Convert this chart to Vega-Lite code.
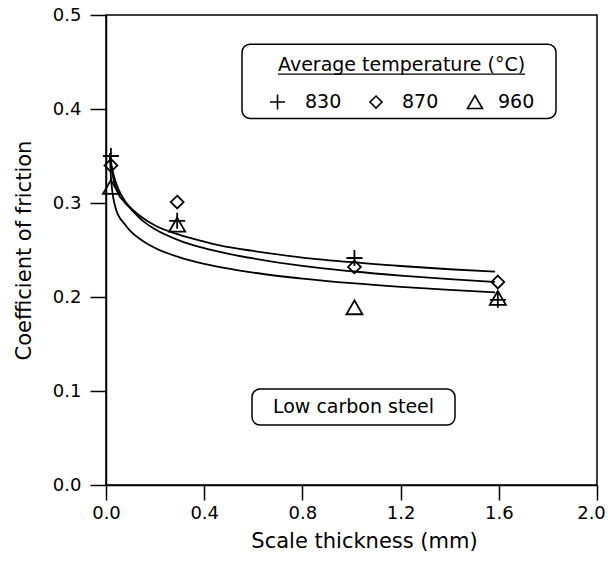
{
  "$schema": "https://vega.github.io/schema/vega-lite/v6.json",
  "width": 491,
  "height": 470,
  "autosize": {"type": "none"},
  "padding": {"left": 106, "top": 15, "right": 11, "bottom": 78},
  "background": "white",
  "config": {
    "view": {"stroke": "black", "strokeWidth": 1.5},
    "font": "DejaVu Sans",
    "axis": {
      "grid": false,
      "domainColor": "black",
      "domainWidth": 1.5,
      "tickColor": "black",
      "tickWidth": 1.5,
      "labelColor": "black",
      "titleColor": "black",
      "labelFont": "DejaVu Sans",
      "titleFont": "DejaVu Sans",
      "labelFontSize": 18,
      "titleFontSize": 21,
      "titleFontWeight": "normal",
      "labelFlush": false
    }
  },
  "datasets": {
    "boxes": [
      {"box": "legend", "x": 0.554, "x2": 1.833, "y": 0.390, "y2": 0.469},
      {"box": "material", "x": 0.5947, "x2": 1.4216, "y": 0.0638, "y2": 0.1021}
    ],
    "curves": [
      {"curve": "830", "x": 0.016, "y": 0.353},
      {"curve": "830", "x": 0.02, "y": 0.344},
      {"curve": "830", "x": 0.03, "y": 0.331},
      {"curve": "830", "x": 0.05, "y": 0.315},
      {"curve": "830", "x": 0.075, "y": 0.303},
      {"curve": "830", "x": 0.1, "y": 0.295},
      {"curve": "830", "x": 0.15, "y": 0.284},
      {"curve": "830", "x": 0.2, "y": 0.276},
      {"curve": "830", "x": 0.3, "y": 0.266},
      {"curve": "830", "x": 0.4, "y": 0.259},
      {"curve": "830", "x": 0.5, "y": 0.253},
      {"curve": "830", "x": 0.6, "y": 0.249},
      {"curve": "830", "x": 0.8, "y": 0.242},
      {"curve": "830", "x": 1.0, "y": 0.237},
      {"curve": "830", "x": 1.2, "y": 0.233},
      {"curve": "830", "x": 1.4, "y": 0.2295},
      {"curve": "830", "x": 1.585, "y": 0.227},
      {"curve": "870", "x": 0.016, "y": 0.353},
      {"curve": "870", "x": 0.02, "y": 0.342},
      {"curve": "870", "x": 0.03, "y": 0.326},
      {"curve": "870", "x": 0.05, "y": 0.310},
      {"curve": "870", "x": 0.075, "y": 0.301},
      {"curve": "870", "x": 0.1, "y": 0.294},
      {"curve": "870", "x": 0.15, "y": 0.281},
      {"curve": "870", "x": 0.2, "y": 0.272},
      {"curve": "870", "x": 0.3, "y": 0.260},
      {"curve": "870", "x": 0.4, "y": 0.252},
      {"curve": "870", "x": 0.5, "y": 0.246},
      {"curve": "870", "x": 0.6, "y": 0.241},
      {"curve": "870", "x": 0.8, "y": 0.233},
      {"curve": "870", "x": 1.0, "y": 0.2274},
      {"curve": "870", "x": 1.2, "y": 0.2228},
      {"curve": "870", "x": 1.4, "y": 0.219},
      {"curve": "870", "x": 1.585, "y": 0.216},
      {"curve": "960", "x": 0.016, "y": 0.350},
      {"curve": "960", "x": 0.018, "y": 0.338},
      {"curve": "960", "x": 0.02, "y": 0.328},
      {"curve": "960", "x": 0.025, "y": 0.314},
      {"curve": "960", "x": 0.03, "y": 0.305},
      {"curve": "960", "x": 0.04, "y": 0.294},
      {"curve": "960", "x": 0.05, "y": 0.287},
      {"curve": "960", "x": 0.075, "y": 0.278},
      {"curve": "960", "x": 0.1, "y": 0.270},
      {"curve": "960", "x": 0.15, "y": 0.2596},
      {"curve": "960", "x": 0.2, "y": 0.2522},
      {"curve": "960", "x": 0.3, "y": 0.2422},
      {"curve": "960", "x": 0.4, "y": 0.2353},
      {"curve": "960", "x": 0.5, "y": 0.2301},
      {"curve": "960", "x": 0.6, "y": 0.2259},
      {"curve": "960", "x": 0.8, "y": 0.2196},
      {"curve": "960", "x": 1.0, "y": 0.2147},
      {"curve": "960", "x": 1.2, "y": 0.2108},
      {"curve": "960", "x": 1.4, "y": 0.2076},
      {"curve": "960", "x": 1.585, "y": 0.205}
    ],
    "points": [
      {"t": "830", "x": 0.02, "y": 0.350},
      {"t": "830", "x": 0.29, "y": 0.281},
      {"t": "830", "x": 1.012, "y": 0.2415},
      {"t": "830", "x": 1.596, "y": 0.197},
      {"t": "870", "x": 0.02, "y": 0.340},
      {"t": "870", "x": 0.29, "y": 0.301},
      {"t": "870", "x": 1.012, "y": 0.232},
      {"t": "870", "x": 1.596, "y": 0.216},
      {"t": "960", "x": 0.02, "y": 0.317},
      {"t": "960", "x": 0.29, "y": 0.277},
      {"t": "960", "x": 1.012, "y": 0.189},
      {"t": "960", "x": 1.596, "y": 0.199}
    ],
    "legendSymbols": [
      {"t": "830", "x": 0.6986, "y": 0.4074},
      {"t": "870", "x": 1.0998, "y": 0.4074},
      {"t": "960", "x": 1.503, "y": 0.4074}
    ],
    "labels": [
      {"txt": "Average temperature (°C)", "x": 0.7006, "y": 0.4404},
      {"txt": "830", "x": 0.8106, "y": 0.4011},
      {"txt": "870", "x": 1.2057, "y": 0.4011},
      {"txt": "960", "x": 1.5967, "y": 0.4011},
      {"txt": "Low carbon steel", "x": 0.680, "y": 0.0766}
    ],
    "underline": [
      {"x": 0.7006, "x2": 1.707, "y": 0.4372}
    ]
  },
  "encoding": {
    "x": {
      "field": "x", "type": "quantitative",
      "scale": {"domain": [0, 2], "nice": false, "zero": false},
      "axis": {
        "title": "Scale thickness (mm)",
        "values": [0, 0.4, 0.8, 1.2, 1.6, 2.0],
        "format": ".1f",
        "tickSize": 15,
        "labelPadding": 4,
        "labelOffset": {"condition": {"test": "datum.value >= 2", "value": -6}, "value": 0},
        "titlePadding": 8,
        "titleX": 258
      }
    },
    "y": {
      "field": "y", "type": "quantitative",
      "scale": {"domain": [0, 0.5], "nice": false},
      "axis": {
        "title": "Coefficient of friction",
        "values": [0, 0.1, 0.2, 0.3, 0.4, 0.5],
        "format": ".1f",
        "tickSize": 16,
        "labelPadding": 9,
        "titlePadding": 18
      }
    }
  },
  "layer": [
    {
      "data": {"name": "boxes"},
      "mark": {"type": "rect", "fill": "white", "stroke": "black", "strokeWidth": 1.5, "cornerRadius": 8},
      "encoding": {
        "x2": {"field": "x2"},
        "y2": {"field": "y2"}
      }
    },
    {
      "data": {"name": "underline"},
      "mark": {"type": "rule", "color": "black", "strokeWidth": 1.3},
      "encoding": {
        "x2": {"field": "x2"}
      }
    },
    {
      "data": {"name": "curves"},
      "mark": {"type": "line", "color": "black", "strokeWidth": 1.8, "interpolate": "monotone"},
      "encoding": {
        "detail": {"field": "curve", "type": "nominal"}
      }
    },
    {
      "data": {"name": "points"},
      "mark": {"type": "point", "filled": false, "color": "black", "strokeWidth": 1.8, "size": 256, "opacity": 1},
      "encoding": {
        "shape": {
          "field": "t", "type": "nominal",
          "scale": {"domain": ["830", "870", "960"], "range": ["M-1,0H1M0,-1V1", "M0,-0.8L0.8,0L0,0.8L-0.8,0Z", "triangle-up"]},
          "legend": null
        }
      }
    },
    {
      "data": {"name": "legendSymbols"},
      "mark": {"type": "point", "filled": false, "color": "black", "strokeWidth": 1.6, "size": 225, "opacity": 1},
      "encoding": {
        "shape": {"field": "t", "type": "nominal", "legend": null}
      }
    },
    {
      "data": {"name": "labels"},
      "mark": {"type": "text", "align": "left", "baseline": "alphabetic", "font": "DejaVu Sans", "fontSize": 19, "color": "black"},
      "encoding": {
        "text": {"field": "txt", "type": "nominal"}
      }
    }
  ]
}
